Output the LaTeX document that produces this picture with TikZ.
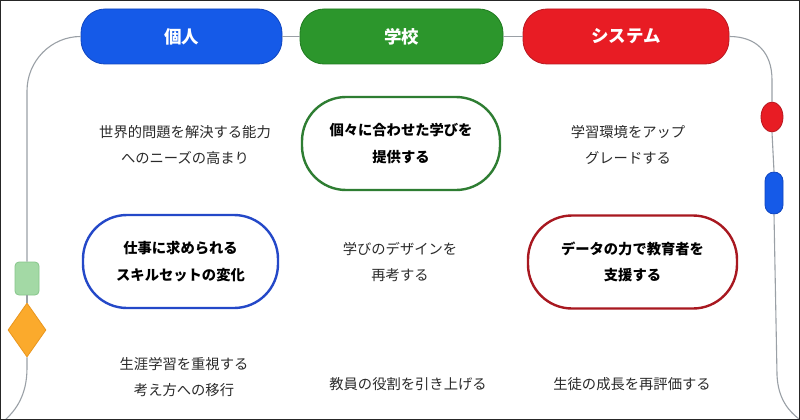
\documentclass[tikz,border=0pt]{standalone}
\usepackage{fontspec}
\setmainfont{Noto Sans CJK JP}
\usetikzlibrary{shapes.geometric}
\definecolor{hblue}{HTML}{155AE8}
\definecolor{hblueD}{HTML}{1046C0}
\definecolor{hgreen}{HTML}{2C962C}
\definecolor{hgreenD}{HTML}{1F7A1F}
\definecolor{hred}{HTML}{E81C24}
\definecolor{hredD}{HTML}{B81820}
\definecolor{pgreen}{HTML}{2E7D32}
\definecolor{pblue}{HTML}{2448C8}
\definecolor{pred}{HTML}{A81820}
\definecolor{lgreen}{HTML}{A3D9A5}
\definecolor{lgreenD}{HTML}{86C68A}
\definecolor{dorange}{HTML}{FBAA2C}
\definecolor{dorangeD}{HTML}{E9961E}
\definecolor{linegray}{HTML}{9AA0A6}
\definecolor{textgray}{HTML}{2A2A2A}
\begin{document}
\begin{tikzpicture}[x=1pt,y=-1pt,
  hdr/.style={rounded corners=24pt, minimum height=55pt, text=white, inner sep=0pt, line width=0.8pt,
    font=\fontsize{17.5}{20}\selectfont\bfseries},
  pill/.style={rounded corners=44pt, line width=2.4pt, fill=white, minimum height=93pt, inner sep=0pt,
    font=\fontsize{14.3}{26.5}\selectfont\bfseries, align=center, text=black},
  plain/.style={font=\fontsize{14.3}{26.5}\selectfont, align=center, text=textgray, inner sep=0pt},
  conn/.style={draw=linegray, line width=1.1pt}]
\useasboundingbox (0,0) rectangle (800,420);
\fill[white] (0,0) rectangle (800,420);

% headers
\node[hdr, fill=hblue, draw=hblueD, minimum width=201pt] (h1) at (181.5,36.5) {個人};
\node[hdr, fill=hgreen, draw=hgreenD, minimum width=203pt] (h2) at (401.5,36.5) {学校};
\node[hdr, fill=hred, draw=hredD, minimum width=206pt] (h3) at (626,36.5) {システム};

% side markers
\node[draw=lgreenD, fill=lgreen, rounded corners=4pt, minimum width=24pt, minimum height=33pt, inner sep=0pt, line width=0.8pt] (gr) at (27,278.5) {};
\node[diamond, draw=dorangeD, fill=dorange, minimum width=38pt, minimum height=54pt, inner sep=0pt, line width=0.8pt] (dm) at (27,330) {};
\node[ellipse, draw=hredD, fill=hred, minimum width=22pt, minimum height=30pt, inner sep=0pt, line width=0.8pt] (re) at (772,117) {};
\node[draw=hblueD, fill=hblue, rounded corners=9pt, minimum width=18pt, minimum height=42pt, inner sep=0pt, line width=0.8pt] (bp) at (774,193) {};

% connectors
\draw[conn] (h1.east) -- (h2.west);
\draw[conn] (h2.east) -- (h3.west);
\draw[conn] (h1.west) .. controls (51,36.5) and (27,61) .. (27,91) -- (gr.north);
\draw[conn] (gr.south) -- (dm.north);
\coordinate (lend) at (5,420);
\draw[conn] (dm.south) -- (27,368) .. controls (27,395) and (16,410) .. (lend);
\draw[conn] (h3.east) .. controls (756,36.5) and (772,52) .. (772,80) -- (re.north);
\draw[conn] (re.south) -- (bp.north);
\coordinate (rend) at (799,419);
\draw[conn] (bp.south) -- (777,375) .. controls (778,400) and (790,412) .. (rend);

% pills
\node[pill, draw=pgreen, minimum width=198pt] (p12) at (401,143.5) {個々に合わせた学びを\\提供する};
\node[pill, draw=pblue, minimum width=195pt] (p21) at (180.5,261.5) {仕事に求められる\\スキルセットの変化};
\node[pill, draw=pred, minimum width=209pt] (p23) at (632.5,262) {データの力で教育者を\\支援する};

% plain texts
\node[plain] (t11) at (185,145) {世界的問題を解決する能力\\へのニーズの高まり};
\node[plain] (t13) at (628,145) {学習環境をアップ\\グレードする};
\node[plain] (t22) at (400,262) {学びのデザインを\\再考する};
\node[plain] (t31) at (184,377) {生涯学習を重視する\\考え方への移行};
\node[plain] (t32) at (408,384) {教員の役割を引き上げる};
\node[plain] (t33) at (632,384) {生徒の成長を再評価する};

% frame
\draw[black!85, line width=2.5pt] (0,0) rectangle (800,420);
\end{tikzpicture}
\end{document}
